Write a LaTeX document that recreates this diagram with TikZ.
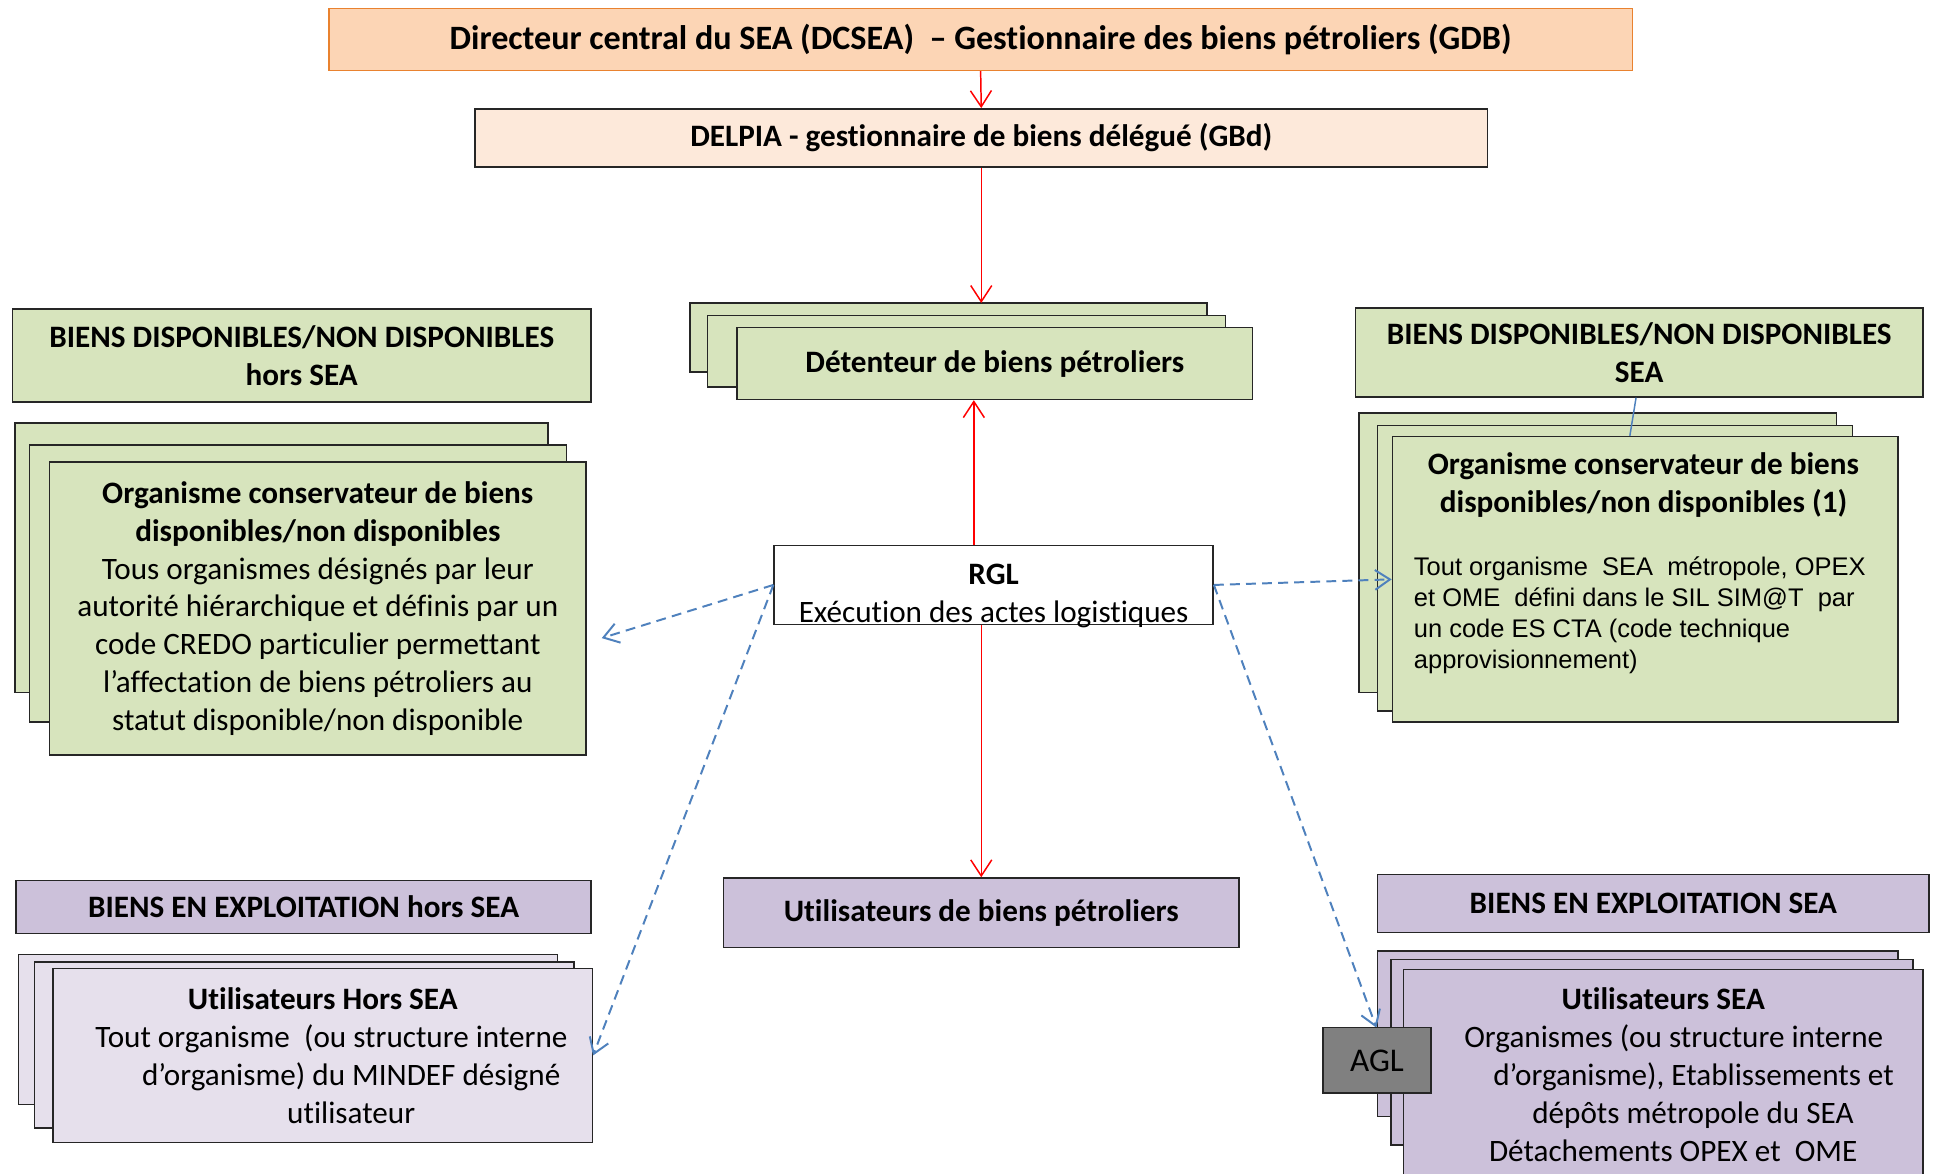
\documentclass[tikz,border=0pt]{standalone}
\usepackage{fontspec}
\setmainfont{Carlito}[Ligatures=NoCommon]
\newfontfamily\arialfont{Liberation Sans}
\usetikzlibrary{arrows.meta}
\definecolor{orangeline}{HTML}{E9822F}
\definecolor{orangefill}{HTML}{FCD5B5}
\definecolor{peachfill}{HTML}{FDE9DA}
\definecolor{greenfill}{HTML}{D7E4BD}
\definecolor{mauvefill}{HTML}{CCC1DA}
\definecolor{lilacfill}{HTML}{E6E0EC}
\definecolor{aglgray}{HTML}{808080}
\definecolor{linkblue}{HTML}{4F81BD}
\tikzset{
  box/.style={draw=black!85, line width=0.6pt, inner sep=0pt, align=center,
    font=\fontsize{12.6}{15.3}\selectfont},
  orangebox/.style={box, draw=orangeline, fill=orangefill, font=\fontsize{13.8}{16}\selectfont},
  peachbox/.style={box, fill=peachfill},
  greenbox/.style={box, fill=greenfill},
  mauvebox/.style={box, fill=mauvefill},
  lilacbox/.style={box, fill=lilacfill},
  whitebox/.style={box, fill=white},
  size/.style 2 args={minimum width=#1pt, minimum height=#2pt},
  redarrow/.style={red, line width=0.6pt, -{Straight Barb[length=6.5pt,width=8.5pt]}},
  bluearrow/.style={linkblue, line width=0.8pt, dash pattern=on 4pt off 2.5pt,
    -{Straight Barb[length=6pt,width=8pt]}},
}
\begin{document}
\begin{tikzpicture}[x=0.5pt,y=-0.5pt]
\useasboundingbox (0,0) rectangle (1568,949);

% layers behind the stacked boxes
\foreach \xa/\ya/\xb/\yb in {558/245/976/301, 572/255/991/313, 12/342/443/560,
    24/360/458/584, 1099/334/1485/560, 1114/344/1498/575}
  \filldraw[greenbox] (\xa,\ya) rectangle (\xb,\yb);
\foreach \xa/\ya/\xb/\yb in {15/772/451/893, 28/778/464/912}
  \filldraw[lilacbox] (\xa,\ya) rectangle (\xb,\yb);
\foreach \xa/\ya/\xb/\yb in {1114/769/1535/903, 1125/776/1547/926}
  \filldraw[mauvebox] (\xa,\ya) rectangle (\xb,\yb);

\node[orangebox, size={527}{25}] (dcsea) at (793,32)
  {\bfseries Directeur central du SEA (DCSEA)\ \ -- Gestionnaire des biens pétroliers (GDB)};
\node[peachbox, size={409.5}{23.5}] (delpia) at (793.5,111.5)
  {\bfseries DELPIA - gestionnaire de biens délégué (GBd)};
\node[greenbox, size={208.5}{29}] (det) at (804.5,294) {\bfseries Détenteur de biens pétroliers};
\coordinate (dettop) at (793,245);

\node[greenbox, size={234}{37.5}] (dispL) at (244,287.5)
  {\textbf{BIENS DISPONIBLES/NON DISPONIBLES}\\\textbf{hors SEA}};
\node[greenbox, size={229.5}{36}] (dispR) at (1325.5,285)
  {\textbf{BIENS DISPONIBLES/NON DISPONIBLES}\\\textbf{SEA}};

\node[greenbox, size={217}{118.5}] (orgL) at (257,492)
  {\textbf{Organisme conservateur de biens}\\\textbf{disponibles/non disponibles}\\
   Tous organismes désignés par leur\\autorité hiérarchique et définis par un\\
   code CREDO particulier permettant\\l’affectation de biens pétroliers au\\
   statut disponible/non disponible};

\node[greenbox, size={204.5}{115.5}] (orgR) at (1330.5,468.5) {};
\node[font=\fontsize{12.6}{15.3}\selectfont\bfseries, align=center, inner sep=0pt]
  (orgRtitle) at (1329,392) {Organisme conservateur de biens\\disponibles/non disponibles (1)};
\node[anchor=north west, align=left, inner sep=0pt,
  font=\arialfont\fontsize{10.3}{12.5}\selectfont] (orgRtext) at (1143,450)
  {Tout organisme\ \ SEA\ \ métropole, OPEX\\et OME\ \ défini dans le SIL SIM@T\ \ par\\
   un code ES CTA (code technique\\approvisionnement)};

\node[whitebox, size={177.5}{32}, inner ysep=-1.7pt] (rgl) at (803.5,473)
  {\rule{0pt}{17pt}\textbf{RGL}\\Exécution des actes logistiques};

\node[mauvebox, size={208.5}{28}] (util) at (793.5,738) {\bfseries Utilisateurs de biens pétroliers};
\node[mauvebox, size={232.5}{21.5}] (explL) at (245.5,733.5) {\bfseries BIENS EN EXPLOITATION hors SEA};
\node[mauvebox, size={223}{23.5}] (explR) at (1337,730.5) {\bfseries BIENS EN EXPLOITATION SEA};

\node[lilacbox, size={218}{70.5}] (uhL) at (261,853.5)
  {\textbf{Utilisateurs Hors SEA}\\\hspace*{7pt}Tout organisme\ \ (ou structure interne\\
   \hspace*{23pt}d’organisme) du MINDEF désigné\\\hspace*{23pt}utilisateur};
\node[mauvebox, size={210}{85}] (usR) at (1345,869)
  {\textbf{Utilisateurs SEA}\\\hspace*{8.5pt}Organismes (ou structure interne\\
   \hspace*{24.5pt}d’organisme), Etablissements et\\\hspace*{24pt}dépôts métropole du SEA\\
   \hspace*{8pt}Détachements OPEX et\ \ OME};

% links
\draw[redarrow] (dcsea.south) -- (delpia.north);
\draw[redarrow] (delpia.south) -- (delpia.south |- dettop);
\draw[redarrow] ([xshift=-8pt]rgl.north) -- ([xshift=-8pt]rgl.north |- det.south);
\draw[redarrow] (rgl.south -| util.north) -- (util.north);

\draw[linkblue, line width=0.6pt] ([xshift=-1.25pt]dispR.south) -- ([xshift=-6.25pt]orgR.north);

\draw[bluearrow] (rgl.west) -- ([xshift=6pt,yshift=-12pt]orgL.east);
\draw[bluearrow] (rgl.west) -- (uhL.east);
\draw[bluearrow] (rgl.east) -- (orgR.west);
\draw[bluearrow] (rgl.east) -- (1113,831);

\node[box, fill=aglgray, size={43.5}{26.5}, font=\fontsize{13.4}{15}\selectfont] (agl) at (1113.5,857.5) {AGL};
\end{tikzpicture}
\end{document}
